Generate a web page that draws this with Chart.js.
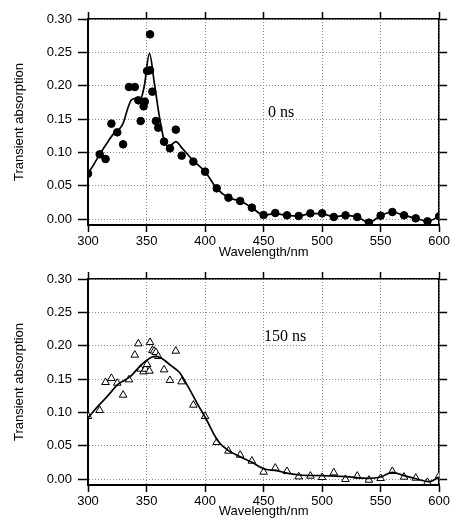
<!DOCTYPE html>
<html>
<head>
<meta charset="utf-8">
<script src="https://cdn.jsdelivr.net/npm/chart.js@4/dist/chart.umd.min.js"></script>
<style>
body { margin: 0; background: #fff; }
canvas { display: block; }
</style>
</head>
<body>
<canvas id="chart0" width="452" height="260"></canvas>
<canvas id="chart150" width="452" height="259"></canvas>
<script>
// 0 ns spectrum (filled circles)
var wl0 = [300, 310, 315, 320, 325, 330, 335, 340, 343, 345, 347.5, 348.5, 350.5, 353, 353, 355, 358, 360, 365, 370, 375, 380, 390, 400, 410, 420, 430, 440, 450, 460, 470, 480, 490, 500, 510, 520, 530, 540, 550, 560, 570, 580, 590, 600]
var abs0 = [0.068, 0.097, 0.090, 0.143, 0.130, 0.112, 0.198, 0.198, 0.178, 0.147, 0.169, 0.176, 0.222, 0.223, 0.277, 0.191, 0.147, 0.137, 0.116, 0.106, 0.134, 0.095, 0.086, 0.071, 0.046, 0.032, 0.027, 0.017, 0.006, 0.009, 0.0055, 0.0045, 0.0085, 0.0085, 0.003, 0.0055, 0.003, -0.0055, 0.005, 0.0105, 0.0055, 0.001, -0.0035, 0.004]
// 0 ns fitted curve
var fitWl0 = [300, 305, 310, 317, 322, 326, 330, 334, 337, 341, 344, 348, 352.5, 356.7, 361, 365, 369, 375, 380.5, 390, 400, 410, 420, 430, 440, 450, 460, 470, 480, 490, 500, 510, 520, 530, 540, 550, 560, 570, 580, 590, 600]
var fit0 = [0.068, 0.082, 0.097, 0.116, 0.128, 0.1335, 0.1435, 0.166, 0.1785, 0.181, 0.176, 0.1985, 0.2485, 0.2035, 0.1535, 0.1185, 0.1085, 0.116, 0.106, 0.0875, 0.071, 0.046, 0.032, 0.027, 0.017, 0.006, 0.008, 0.0055, 0.0045, 0.008, 0.008, 0.003, 0.0055, 0.003, -0.005, 0.005, 0.0105, 0.0055, 0.001, -0.0035, 0.004]

// 150 ns spectrum (open triangles)
var wl150 = [300, 310, 315, 320, 325, 330, 335, 340, 343, 345, 347.5, 349, 350.5, 352.5, 353, 355, 356.5, 358, 360, 365, 370, 375, 380, 390, 400, 410, 420, 430, 440, 450, 460, 470, 480, 490, 500, 510, 520, 530, 540, 550, 560, 570, 580, 590, 600]
var abs150 = [0.094, 0.103, 0.145, 0.151, 0.144, 0.126, 0.149, 0.186, 0.203, 0.165, 0.161, 0.165, 0.172, 0.162, 0.205, 0.193, 0.192, 0.190, 0.184, 0.164, 0.148, 0.192, 0.146, 0.111, 0.094, 0.055, 0.042, 0.036, 0.027, 0.0105, 0.0165, 0.0115, 0.0035, 0.0045, 0.0025, 0.0095, -0.0005, 0.0045, -0.0015, 0.001, 0.0115, 0.003, 0.0015, -0.005, 0.005]
// 150 ns fitted curve
var fitWl150 = [300, 309, 317, 326, 331, 337, 343, 350, 357, 362, 371, 378, 385, 393.5, 400, 411, 420, 430, 440, 451, 461, 471, 481, 500, 520, 540, 550, 560, 570, 581, 591, 600]
var fit150 = [0.0917, 0.110, 0.125, 0.1428, 0.1478, 0.155, 0.1668, 0.1778, 0.1838, 0.1818, 0.170, 0.160, 0.140, 0.1127, 0.093, 0.057, 0.0426, 0.0335, 0.025, 0.015, 0.0125, 0.0085, 0.006, 0.005, 0.0035, 0.001, 0.003, 0.010, 0.005, 0.0, -0.004, 0.003]

var xTicks = [300, 350, 400, 450, 500, 550, 600]
var yTicks = [0.00, 0.05, 0.10, 0.15, 0.20, 0.25, 0.30]

Chart.defaults.font.family = "'Liberation Sans', Arial, sans-serif"
Chart.defaults.font.size = 13
Chart.defaults.color = '#000'

function toPoints(xs, ys){
    var out = []
    for (var i = 0; i < xs.length; i++){
        out.push({x: xs[i], y: ys[i]})
    }
    return out
}

// writes the delay time label inside the plot
var delayLabel = {
    id: 'delayLabel',
    afterDatasetsDraw: function(chart, args, opts){
        var ctx = chart.ctx
        ctx.save()
        ctx.font = "16px 'Liberation Serif', 'Times New Roman', serif"
        ctx.fillStyle = '#000'
        ctx.textAlign = 'center'
        ctx.textBaseline = 'middle'
        ctx.fillText(opts.text, chart.scales.x.getPixelForValue(opts.x), chart.scales.y.getPixelForValue(opts.y))
        ctx.restore()
    }
}

function makeChart(id, pts, fit, style, label, labelX, labelY, topPad, bottomH){
    var ctx = document.getElementById(id).getContext('2d')
    var tickMark = {tickColor: '#000', tickWidth: 1.5, tickBorderDash: []}
    return new Chart(ctx, {
        type: 'line',
        data: {
            datasets: [{
                data: fit,
                borderColor: '#000',
                borderWidth: 1.7,
                pointRadius: 0,
                tension: 0.35,
                cubicInterpolationMode: 'monotone',
                fill: false
            }, {
                data: pts,
                showLine: false,
                pointStyle: style,
                pointRadius: style == 'triangle' ? 4.4 : 3.8,
                pointBorderWidth: 1,
                pointBorderColor: '#000',
                pointBackgroundColor: style == 'triangle' ? '#fff' : '#000'
            }]
        },
        options: {
            responsive: false,
            animation: false,
            layout: {padding: {top: topPad, right: 2, left: 0, bottom: 0}},
            plugins: {
                legend: {display: false},
                tooltip: {enabled: false},
                delayLabel: {text: label, x: labelX, y: labelY}
            },
            scales: {
                x: {
                    type: 'linear', position: 'bottom', min: 300, max: 600,
                    afterBuildTicks: function(s){ s.ticks = xTicks.map(function(v){ return {value: v} }) },
                    afterFit: function(s){ s.height = bottomH },
                    ticks: {padding: 2, maxRotation: 0},
                    grid: Object.assign({color: '#8a8a8a', lineWidth: 1, tickLength: 7}, tickMark),
                    border: {color: '#000', width: 2, dash: [1, 2]},
                    title: {display: true, text: 'Wavelength/nm', padding: {top: 0, bottom: 0}}
                },
                x2: {
                    type: 'linear', position: 'top', min: 300, max: 600,
                    afterBuildTicks: function(s){ s.ticks = xTicks.map(function(v){ return {value: v} }) },
                    afterFit: function(s){ s.height = 7 },
                    ticks: {display: false},
                    grid: Object.assign({drawOnChartArea: false, tickLength: 7}, tickMark),
                    border: {color: '#000', width: 1.5}
                },
                y: {
                    type: 'linear', position: 'left', min: -0.009, max: 0.30,
                    afterBuildTicks: function(s){ s.ticks = yTicks.map(function(v){ return {value: v} }) },
                    afterFit: function(s){ s.width = 88 },
                    ticks: {padding: 6, callback: function(v){ return v.toFixed(2) }},
                    grid: Object.assign({color: '#8a8a8a', lineWidth: 1, tickLength: 10}, tickMark),
                    border: {color: '#000', width: 2, dash: [1, 2]},
                    title: {display: true, text: 'Transient absorption', padding: {top: 12, bottom: 0}}
                },
                y2: {
                    type: 'linear', position: 'right', min: -0.009, max: 0.30,
                    afterBuildTicks: function(s){ s.ticks = yTicks.map(function(v){ return {value: v} }) },
                    afterFit: function(s){ s.width = 8 },
                    ticks: {display: false},
                    grid: Object.assign({drawOnChartArea: false, tickLength: 8}, tickMark),
                    border: {color: '#000', width: 1.5}
                }
            }
        },
        plugins: [delayLabel]
    })
}

makeChart('chart0', toPoints(wl0, abs0), toPoints(fitWl0, fit0), 'circle', '0 ns', 465, 0.159, 12, 35)
makeChart('chart150', toPoints(wl150, abs150), toPoints(fitWl150, fit150), 'triangle', '150 ns', 468.5, 0.214, 12, 34)
</script>
</body>
</html>
